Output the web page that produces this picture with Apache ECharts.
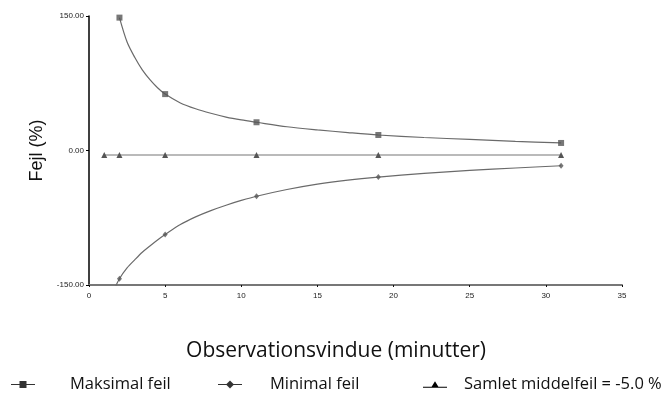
<!DOCTYPE html>
<html>
<head>
<meta charset="utf-8">
<script src="https://cdn.jsdelivr.net/npm/echarts@6/dist/echarts.min.js"></script>
<style>
  html, body { margin: 0; padding: 0; background: #fff; }
  #chart { width: 672px; height: 398px; }
</style>
</head>
<body>
<div id="chart"></div>
<script>
// Observation window lengths (minutes) with measured error bounds
const windowMinutes = [2, 5, 11, 19, 31];
const maxError = [148.2, 62.9, 31.5, 17.3, 8.4];
const minError = [-143, -93.7, -51, -29.6, -17];

// Overall mean error, plotted at each window length
const meanMinutes = [1, 2, 5, 11, 19, 31];
const meanError = [-5, -5, -5, -5, -5, -5];

// Fitted trend curves through the bounds
const maxTrendX = [2, 2.5, 3, 3.5, 4, 4.5, 5, 6, 7, 8, 9, 10, 11, 13, 15, 17, 19, 22, 25, 28, 31];
const maxTrendY = [148.2, 121, 104, 90, 79, 70, 62.9, 53, 46.5, 41.5, 37.3, 34.1, 31.5, 26.5, 23, 20, 17.3, 14.5, 12.3, 10.2, 8.4];
const minTrendX = [1.65, 2, 2.5, 3, 3.5, 4, 4.5, 5, 6, 7, 8, 9, 10, 11, 13, 15, 17, 19, 22, 25, 28, 31];
const minTrendY = [-155, -143, -131, -122, -113.5, -106.5, -99.8, -93.7, -82.5, -74, -67, -61, -55.7, -51, -43.5, -37.5, -33, -29.6, -25.5, -22.2, -19.5, -17];

const seriesNames = ['Maksimal feil', 'Minimal feil', 'Samlet middelfeil = -5.0 %'];
const yTicks = [-150, 0, 150];

const pairs = (xs, ys) => xs.map((x, i) => [x, ys[i]]);

const markerColor = '#555';
const lineColor = '#6a6a6a';
const textFont = '"Open Sans", "Noto Sans", sans-serif';
const tickFont = '"Liberation Sans", Arial, sans-serif';

const iconSquare = 'path://M0,4.5H24V5.5H0Z M8.5,1.5H15.5V8.5H8.5Z';
const iconDiamond = 'path://M0,4.5H24V5.5H0Z M12,1L16,5L12,9L8,5Z';
const iconTriangle = 'path://M0,6.5H24V7.5H0Z M12,1L16,7.5H8Z';

function legendAt(left, gap, name, icon) {
  return {
    left: left,
    top: 371,
    itemWidth: 24,
    itemHeight: 10,
    itemGap: 0,
    selectedMode: false,
    data: [{ name: name, icon: icon, itemStyle: { color: '#000' } }],
    textStyle: {
      fontFamily: textFont,
      fontSize: 16.5,
      color: '#111',
      padding: [0, 0, 0, gap]
    }
  };
}

const chart = echarts.init(document.getElementById('chart'));
chart.setOption({
  animation: false,
  backgroundColor: '#fff',
  title: {
    text: 'Observationsvindue (minutter)',
    left: 'center',
    top: 336,
    textStyle: { fontFamily: textFont, fontSize: 21, fontWeight: 'normal', color: '#111' }
  },
  grid: { left: 89, right: 50, top: 16, bottom: 113 },
  legend: [
    legendAt(6, 30, seriesNames[0], iconSquare),
    legendAt(213, 23, seriesNames[1], iconDiamond),
    legendAt(418, 12, seriesNames[2], iconTriangle)
  ],
  xAxis: {
    type: 'value',
    min: 0,
    max: 35,
    interval: 5,
    axisLine: { onZero: false, lineStyle: { color: '#777', width: 2 } },
    axisTick: { inside: false, length: 2, lineStyle: { color: '#111', width: 1 } },
    axisLabel: { fontFamily: tickFont, fontSize: 8, color: '#222', margin: 7 },
    splitLine: { show: false }
  },
  yAxis: {
    type: 'value',
    min: yTicks[0],
    max: yTicks[2],
    interval: 150,
    name: 'Fejl (%)',
    nameLocation: 'middle',
    nameGap: 37,
    nameTextStyle: { fontFamily: tickFont, fontSize: 18, color: '#111' },
    axisLine: { show: true, lineStyle: { color: '#000', width: 1.5 } },
    axisTick: { show: true, length: 3, lineStyle: { color: '#000' } },
    axisLabel: {
      fontFamily: tickFont,
      fontSize: 8,
      color: '#222',
      margin: 5,
      formatter: v => v.toFixed(2)
    },
    splitLine: { show: false }
  },
  series: [
    {
      name: 'maxTrend',
      type: 'line',
      data: pairs(maxTrendX, maxTrendY),
      smooth: 0.3,
      showSymbol: false,
      lineStyle: { color: lineColor, width: 1.2 },
      z: 2
    },
    {
      name: 'minTrend',
      type: 'line',
      data: pairs(minTrendX, minTrendY),
      smooth: 0.3,
      showSymbol: false,
      lineStyle: { color: lineColor, width: 1.2 },
      z: 2
    },
    {
      name: seriesNames[0],
      type: 'scatter',
      data: pairs(windowMinutes, maxError),
      symbol: 'rect',
      symbolSize: 6,
      itemStyle: { color: markerColor },
      z: 3
    },
    {
      name: seriesNames[1],
      type: 'scatter',
      data: pairs(windowMinutes, minError),
      symbol: 'diamond',
      symbolSize: [5, 6],
      itemStyle: { color: markerColor },
      z: 3
    },
    {
      name: seriesNames[2],
      type: 'line',
      data: pairs(meanMinutes, meanError),
      symbol: 'triangle',
      symbolSize: 6,
      showAllSymbol: true,
      itemStyle: { color: markerColor },
      lineStyle: { color: '#777', width: 1.2 },
      z: 3
    }
  ]
});
</script>
</body>
</html>
